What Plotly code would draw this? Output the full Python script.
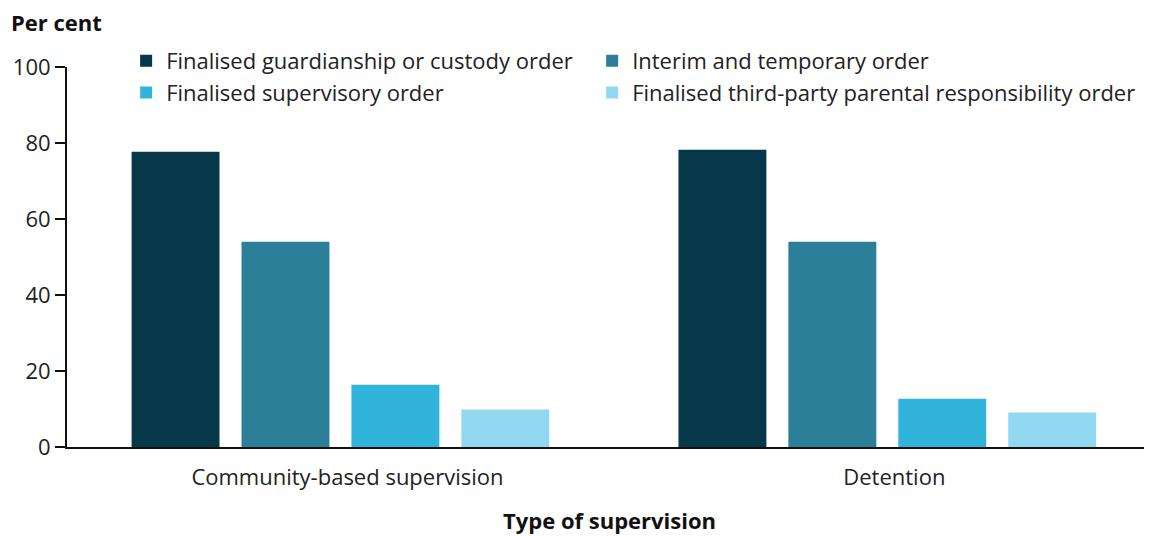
import plotly.graph_objects as go

categories = ["Community-based supervision", "Detention"]
series_names = [
    "Finalised guardianship or custody order",
    "Interim and temporary order",
    "Finalised supervisory order",
    "Finalised third-party parental responsibility order",
]
guardianship = [77.7, 78.2]
interim = [54.0, 54.0]
supervisory = [16.4, 12.7]
third_party = [9.9, 9.1]
series_values = [guardianship, interim, supervisory, third_party]
colors = ["#07384a", "#2c7f98", "#31b4dc", "#91d8f0"]
legend_ids = ["legend", "legend2", "legend", "legend2"]
y_ticks = [0, 20, 40, 60, 80, 100]

fig = go.Figure()
for name, vals, col, lg in zip(series_names, series_values, colors, legend_ids):
    fig.add_trace(go.Bar(x=categories, y=vals, name=name, legend=lg,
                         marker=dict(color=col, line=dict(width=0))))

FONT = "Open Sans, Noto Sans, sans-serif"
legend_common = dict(
    orientation="v", y=1.071, xanchor="left", yanchor="top",
    font=dict(size=22, color="#222222"), traceorder="normal",
    bgcolor="rgba(0,0,0,0)",
)
fig.update_layout(
    width=1144, height=528,
    margin=dict(l=59, r=0, t=59, b=88.5, autoexpand=False),
    plot_bgcolor="white", paper_bgcolor="white",
    font=dict(family=FONT, size=22, color="#222222"),
    barmode="group", bargap=0.196, bargroupgap=0.2,
    showlegend=True,
    legend=dict(x=0.0545, **legend_common),
    legend2=dict(x=0.484, **legend_common),
    xaxis=dict(
        range=[-0.5, 1.484], showline=True, linecolor="#111111", linewidth=2,
        ticks="outside", ticklen=10, tickcolor="rgba(0,0,0,0)",
        ticklabelshift=7,
        showgrid=False, zeroline=False,
        tickfont=dict(size=22, color="#222222"),
    ),
    yaxis=dict(
        range=[0, 100], tickvals=y_ticks, showline=True, linecolor="#111111", linewidth=2,
        ticks="outside", ticklen=10, tickwidth=2, tickcolor="#111111",
        showgrid=False, zeroline=False, tickfont=dict(size=22, color="#222222"),
    ),
    annotations=[
        dict(
            text="<b>Per cent</b>", xref="paper", yref="paper", x=-0.0525, y=1.076,
            xanchor="left", yanchor="bottom", showarrow=False, borderpad=0,
            font=dict(size=22, color="#111111"),
        ),
        dict(
            text="<b>Type of supervision</b>", xref="paper", yref="paper", x=0.5, y=-0.192,
            xanchor="center", yanchor="middle", showarrow=False, borderpad=0,
            font=dict(size=22, color="#111111"),
        ),
    ],
)

fig.write_html("out.html")
